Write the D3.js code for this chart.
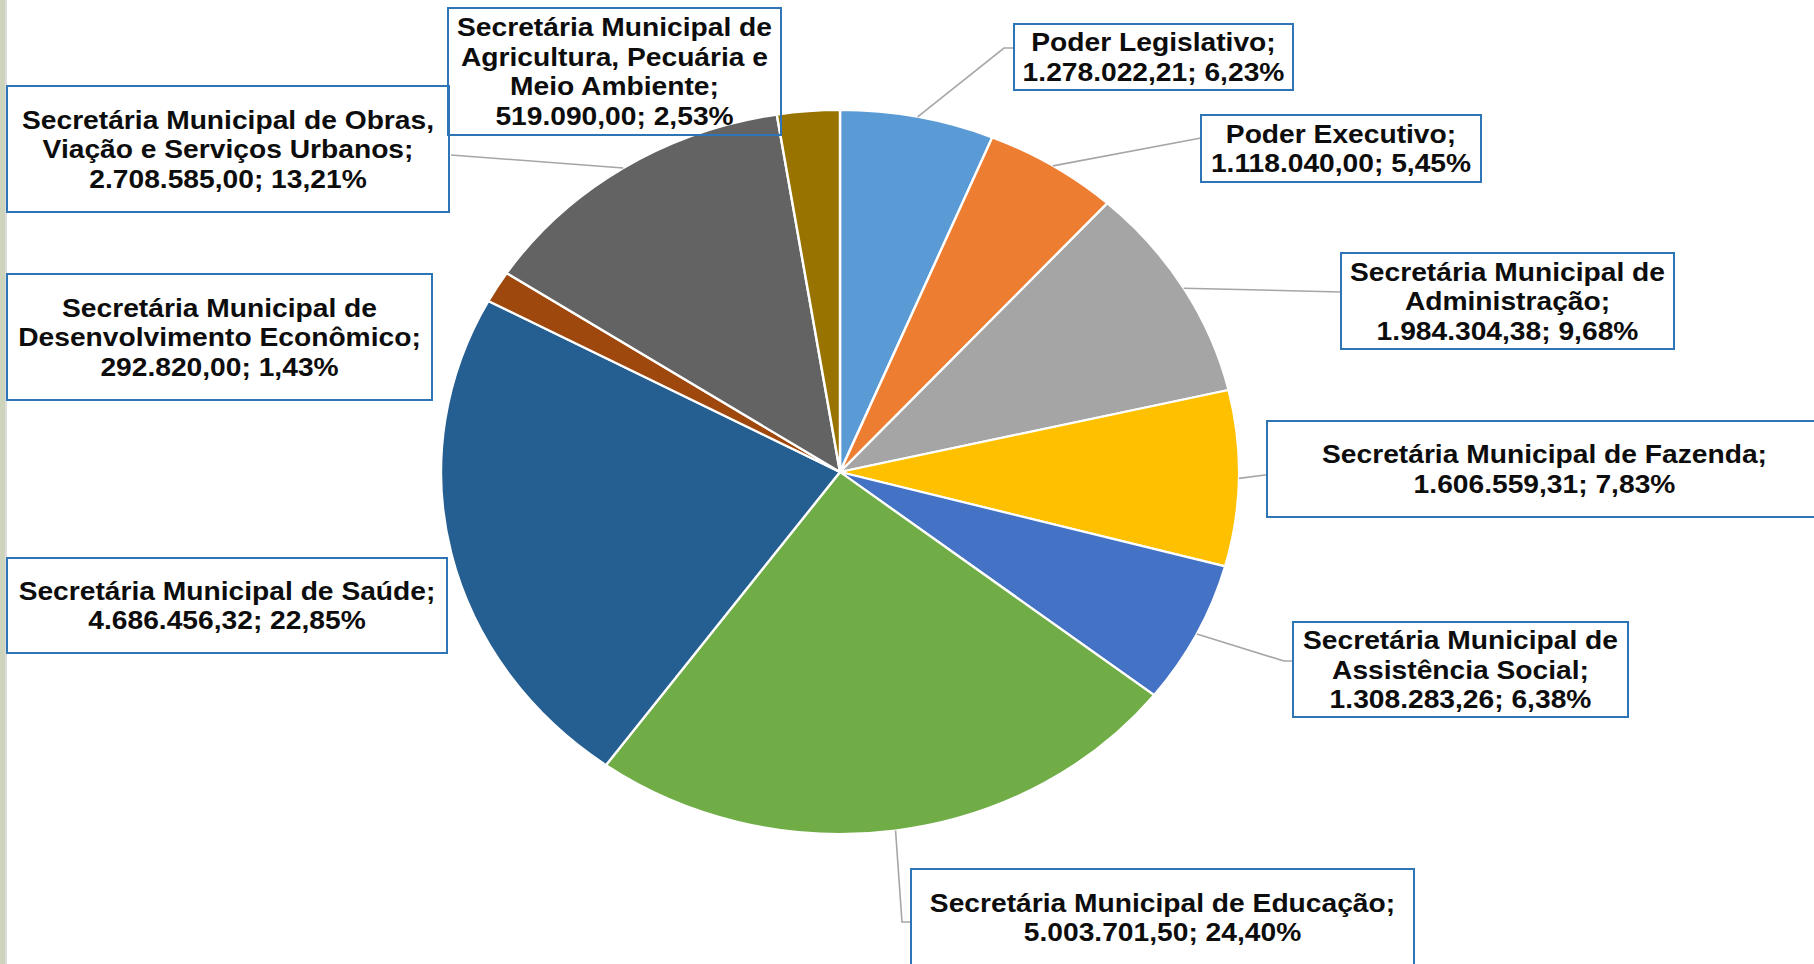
<!DOCTYPE html>
<html>
<head>
<meta charset="utf-8">
<script src="https://cdn.jsdelivr.net/npm/d3@7"></script>
<style>
  html, body { margin: 0; padding: 0; background: #ffffff; overflow: hidden; }
  svg { display: block; }
</style>
</head>
<body>
<svg id="chart" width="1814" height="964"></svg>
<script>
// ---------------- DATA ----------------
const categories = [
  "Poder Legislativo",
  "Poder Executivo",
  "Secretária Municipal de Administração",
  "Secretária Municipal de Fazenda",
  "Secretária Municipal de Assistência Social",
  "Secretária Municipal de Educação",
  "Secretária Municipal de Saúde",
  "Secretária Municipal de Desenvolvimento Econômico",
  "Secretária Municipal de Obras, Viação e Serviços Urbanos",
  "Secretária Municipal de Agricultura, Pecuária e Meio Ambiente"
];
const values = [
  1278022.21, 1118040.00, 1984304.38, 1606559.31, 1308283.26,
  5003701.50, 4686456.32, 292820.00, 2708585.00, 519090.00
];
// label text, wrapped as in the original data labels
const labelNames = [
  ["Poder Legislativo;"],
  ["Poder Executivo;"],
  ["Secretária Municipal de", "Administração;"],
  ["Secretária Municipal de Fazenda;"],
  ["Secretária Municipal de", "Assistência Social;"],
  ["Secretária Municipal de Educação;"],
  ["Secretária Municipal de Saúde;"],
  ["Secretária Municipal de", "Desenvolvimento Econômico;"],
  ["Secretária Municipal de Obras,", "Viação e Serviços Urbanos;"],
  ["Secretária Municipal de", "Agricultura, Pecuária e", "Meio Ambiente;"]
];
const colors = [
  "#5B9BD5", "#ED7D31", "#A5A5A5", "#FFC000", "#4472C4",
  "#70AD47", "#255E91", "#9E480E", "#636363", "#997300"
];

// ---------------- LAYOUT ----------------
const W = 1814, H = 964;
const cx = 840, cy = 472, rx = 399, ry = 362;
const sx = rx / ry;               // the picture is stretched horizontally
const fontSize = 26, lineH = 29.5, textSX = 1.085;

// label boxes: [x0, y0, x1, y1], leader elbow/attach points (null = no leader)
const boxes = [
  { r: [1014, 24, 1293, 90],  leader: [[1004, 48], [1014, 48]] },
  { r: [1201, 115, 1481, 182], leader: [[1201, 138]] },
  { r: [1341, 253, 1674, 349], leader: [[1341, 292]] },
  { r: [1267, 421, 1822, 517], leader: [[1265, 475], [1267, 475]] },
  { r: [1293, 622, 1628, 717], leader: [[1284, 661], [1293, 661]] },
  { r: [911, 869, 1414, 966],  leader: [[902, 922], [911, 922]] },
  { r: [7, 558, 447, 653],     leader: null },
  { r: [7, 274, 432, 400],     leader: null },
  { r: [7, 86, 449, 212],      leader: [[451, 155]] },
  { r: [448, 8, 781, 135],     leader: null }
];

// ---------------- DRAW ----------------
const svg = d3.select("#chart");
svg.append("rect").attr("width", W).attr("height", H).attr("fill", "#ffffff");
// left window edge strip
svg.append("rect").attr("x", 0).attr("y", 0).attr("width", 5).attr("height", H).attr("fill", "#cdd4bb");
svg.append("rect").attr("x", 5).attr("y", 0).attr("width", 2).attr("height", H).attr("fill", "#dcdcdc");

const total = d3.sum(values);
const loc = d3.formatLocale({ decimal: ",", thousands: ".", grouping: [3], currency: ["", ""] });
const fmtVal = loc.format(",.2f");
const fmtPct = loc.format(".2f");

const data = categories.map((c, i) => ({ name: c, value: values[i], i }));
const pie = d3.pie().sort(null).value(d => d.value).startAngle(0).endAngle(2 * Math.PI);
const arcs = pie(data);
const arc = d3.arc().innerRadius(0).outerRadius(ry);

const pieG = svg.append("g").attr("transform", `translate(${cx},${cy}) scale(${sx},1)`);
pieG.selectAll("path").data(arcs).join("path")
  .attr("d", arc)
  .attr("fill", d => colors[d.data.i])
  .attr("stroke", "#ffffff")
  .attr("stroke-width", 2.2)
  .attr("stroke-linejoin", "round");

// leader lines
const edgePoint = a => {
  const m = (a.startAngle + a.endAngle) / 2;
  return [cx + rx * Math.sin(m), cy - ry * Math.cos(m)];
};
const line = d3.line();
arcs.forEach((a, i) => {
  const b = boxes[i];
  if (!b.leader) return;
  const pts = [edgePoint(a), ...b.leader];
  svg.append("path").attr("d", line(pts))
    .attr("fill", "none").attr("stroke", "#a6a6a6").attr("stroke-width", 1.6);
});

// label boxes and text
arcs.forEach((a, i) => {
  const [x0, y0, x1, y1] = boxes[i].r;
  svg.append("rect")
    .attr("x", x0).attr("y", y0).attr("width", x1 - x0).attr("height", y1 - y0)
    .attr("fill", "none").attr("stroke", "#2e75b6").attr("stroke-width", 2);
  const pct = a.data.value / total * 100;
  const lines = labelNames[i].concat([fmtVal(a.data.value) + "; " + fmtPct(pct) + "%"]);
  const mx = (x0 + x1) / 2, my = (y0 + y1) / 2;
  const n = lines.length;
  lines.forEach((t, k) => {
    const y = my + (k - (n - 1) / 2) * lineH;
    svg.append("text")
      .attr("transform", `translate(${mx},${y}) scale(${textSX},1)`)
      .attr("text-anchor", "middle")
      .attr("dy", "0.35em")
      .attr("font-family", "'Liberation Sans', Arial, sans-serif")
      .attr("font-weight", "bold")
      .attr("font-size", fontSize)
      .attr("fill", "#0d0d0d")
      .text(t);
  });
});
</script>
</body>
</html>
